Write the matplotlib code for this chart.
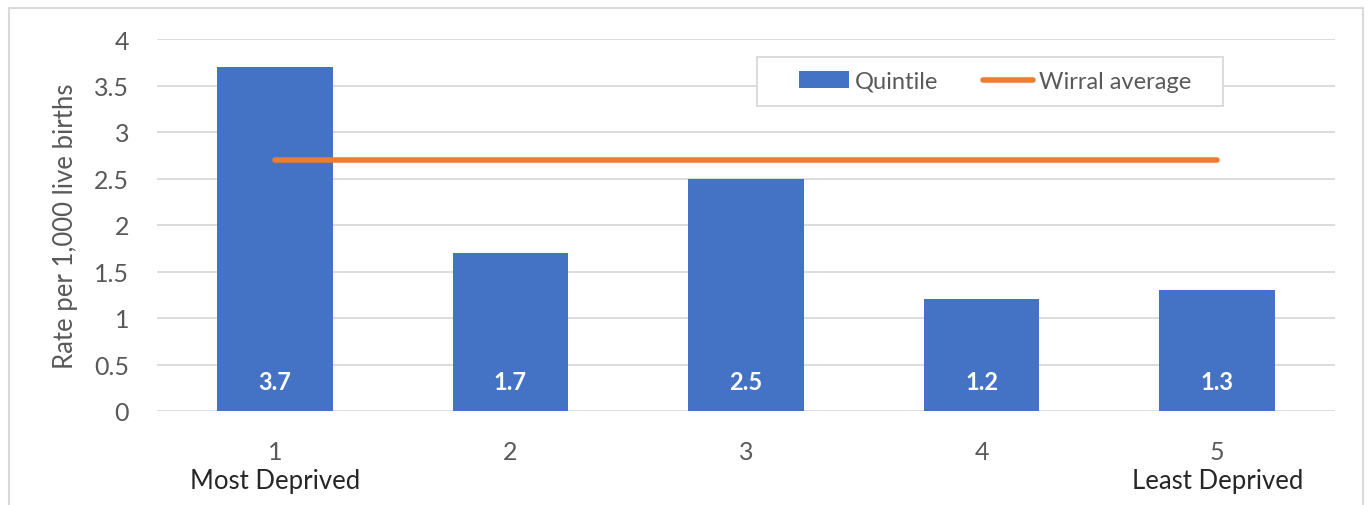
import matplotlib
matplotlib.use("Agg")
import matplotlib.pyplot as plt
from matplotlib.patches import Rectangle
import matplotlib.transforms as mtransforms

categories = ["1", "2", "3", "4", "5"]
sub_labels = ["Most Deprived", "", "", "", "Least Deprived"]
quintile_rates = [3.7, 1.7, 2.5, 1.2, 1.3]
wirral_average = [2.7, 2.7, 2.7, 2.7, 2.7]
yticks = [0, 0.5, 1, 1.5, 2, 2.5, 3, 3.5, 4]
ytick_labels = ["0", "0.5", "1", "1.5", "2", "2.5", "3", "3.5", "4"]

plt.rcParams['font.family'] = ['Lato', 'DejaVu Sans']

W, H = 1368, 506
fig = plt.figure(figsize=(W / 100, H / 100), dpi=100)
ax = fig.add_axes([157 / W, 1 - 412 / H, (1335 - 157) / W, (412 - 40) / H])

x = list(range(len(categories)))
bars = ax.bar(x, quintile_rates, width=0.49, color="#4472C4", label="Quintile", zorder=2)
line, = ax.plot(x, wirral_average, color="#ED7D31", linewidth=4, solid_capstyle="round",
                label="Wirral average", zorder=3)

for xi, v in zip(x, quintile_rates):
    ax.text(xi, 0.32, f"{v}", ha="center", va="center", color="white",
            fontsize=17, fontweight="bold", zorder=4)

ax.set_xlim(-0.5, len(categories) - 0.5)
ax.set_ylim(0, 4)
ax.set_yticks(yticks)
ax.set_yticklabels(ytick_labels)
ax.set_xticks(x)
ax.set_xticklabels(categories)
ax.tick_params(axis="both", length=0, labelsize=18, labelcolor="#595959")
ax.tick_params(axis="y", pad=20)
ax.tick_params(axis="x", pad=21)
ax.grid(axis="y", color="#d9d9d9", linewidth=1.3, zorder=0)
ax.set_axisbelow(True)
for s in ax.spines.values():
    s.set_visible(False)

trans = mtransforms.blended_transform_factory(ax.transData, fig.transFigure)
for xi, lab in zip(x, sub_labels):
    if lab:
        ax.text(xi, 1 - 482 / H, lab, ha="center", va="center", fontsize=18.5,
                color="#262626", transform=trans)

ax.set_ylabel("Rate per 1,000 live births", fontsize=18.5, color="#595959")
ax.yaxis.set_label_coords((78 - 157) / (1335 - 157), 0.5)

# legend box (frame drawn separately to get Excel-like padding)
ax.add_patch(Rectangle((0.5093, 0.8199), 0.9049 - 0.5093, 0.9516 - 0.8199,
                       transform=ax.transAxes, facecolor="white",
                       edgecolor="#d9d9d9", linewidth=1.3, zorder=5))
leg = ax.legend(handles=[bars, line], labels=["Quintile", "Wirral average"],
                loc="center", bbox_to_anchor=(0.7114, 0.8858),
                ncol=2, frameon=False, fontsize=17,
                handlelength=2.1, handleheight=0.7, handletextpad=0.25,
                columnspacing=1.9, borderpad=0.0, borderaxespad=0.0)
leg.set_zorder(6)
for t in leg.get_texts():
    t.set_color("#595959")

fig.patches.append(Rectangle((9 / W, -0.1), (1363 - 9) / W, 1.1 - 9 / H,
                             transform=fig.transFigure, fill=False,
                             edgecolor="#d9d9d9", linewidth=1.5))

fig.savefig("out.png", dpi=100)
